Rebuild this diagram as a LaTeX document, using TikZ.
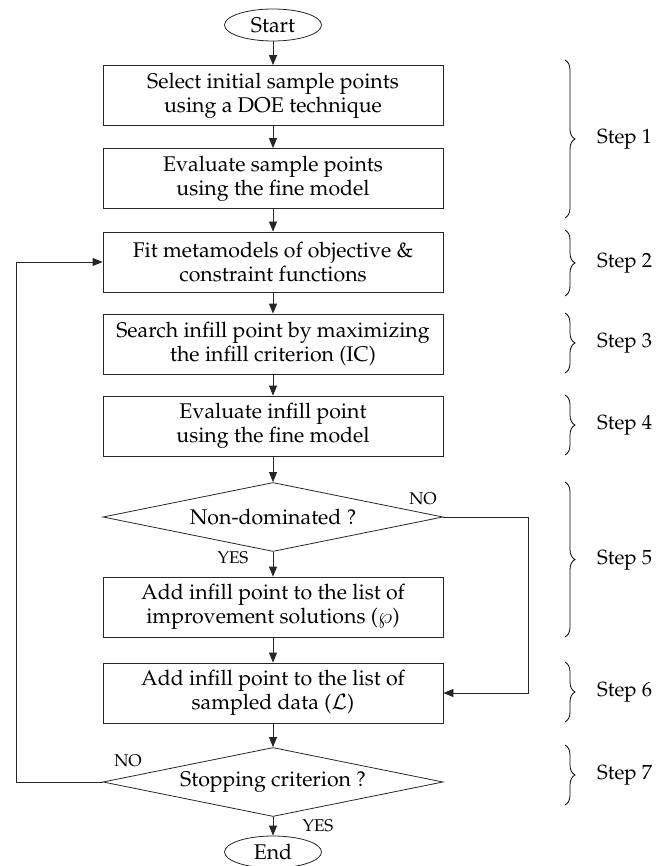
\documentclass[tikz,border=0pt]{standalone}
\usepackage[T1]{fontenc}
\usepackage{mathpazo}
\usetikzlibrary{shapes.geometric,arrows.meta,decorations.pathreplacing}
\tikzset{
  box/.style={draw=black!85, line width=0.8pt, rectangle, minimum width=340pt, minimum height=60pt, align=center, inner sep=0pt},
  term/.style={draw=black!85, line width=0.8pt, ellipse, minimum width=97pt, minimum height=32pt, inner sep=0pt},
  decis/.style={draw=black!85, line width=0.8pt, diamond, aspect=4.9, minimum width=340pt, minimum height=69pt, inner sep=0pt},
  conn/.style={draw=black!85, line width=0.8pt, -{Triangle[length=10pt,width=8pt]}},
  brc/.style={draw=black, line width=0.8pt, decorate, decoration={brace, amplitude=10pt}},
  steplab/.style={anchor=west, inner sep=0pt, font=\fontsize{20.5}{24}\selectfont},
  ynlab/.style={inner sep=0pt, font=\fontsize{17}{19}\selectfont},
}
\begin{document}
\begin{tikzpicture}[x=1pt,y=-1pt, font=\fontsize{21.3}{24}\selectfont]
\useasboundingbox (0,0) rectangle (657,866);
\node[term] (start) at (273,25) {Start};
\node[box] (b1) at (273,95.5) {Select initial sample points\\using a DOE technique};
\node[box] (b2) at (273,178.5) {Evaluate sample points\\using the fine model};
\node[box] (b3) at (273,262) {Fit metamodels of objective \&\\constraint functions};
\node[box] (b4) at (273,344) {Search infill point by maximizing\\the infill criterion (IC)};
\node[box] (b5) at (273,426) {Evaluate infill point\\using the fine model};
\node[decis] (d1) at (273,517) {Non-dominated ?};
\node[box] (b6) at (273,607) {Add infill point to the list of\\improvement solutions ($\wp$)};
\node[box] (b7) at (273,693) {Add infill point to the list of\\sampled data ($\mathcal{L}$)};
\node[decis] (d2) at (273,782) {Stopping criterion ?};
\node[term] (end) at (273,852) {End};

\coordinate (r1) at (528,517);
\coordinate (r2) at (528,693);
\coordinate (l1) at (16,782);
\coordinate (l2) at (16,262);

\draw[conn] (start) -- (b1);
\draw[conn] (b1) -- (b2);
\draw[conn] (b2) -- (b3);
\draw[conn] (b3) -- (b4);
\draw[conn] (b4) -- (b5);
\draw[conn] (b5) -- (d1);
\draw[conn] (d1) -- (b6);
\draw[conn] (b6) -- (b7);
\draw[conn] (b7) -- (d2);
\draw[conn] (d2) -- (end);
\draw[conn] (d1.east) -- (r1) -- (r2) -- (b7.east);
\draw[conn] (d2.west) -- (l1) -- (l2) -- (b3.west);

\node[ynlab] (yes1) at (233,558) {YES};
\node[ynlab] (no1) at (423,499) {NO};
\node[ynlab] (no2) at (128,761) {NO};
\node[ynlab] (yes2) at (318,826) {YES};

\draw[brc] (565,60) -- (565,218);
\draw[brc] (565,230) -- (565,296);
\draw[brc] (565,313) -- (565,373);
\draw[brc] (565,395) -- (565,455);
\draw[brc] (565,482) -- (565,637);
\draw[brc] (565,662) -- (565,722);
\draw[brc] (565,745) -- (565,805);
\node[steplab] (s1) at (597,139) {Step 1};
\node[steplab] (s2) at (597,263) {Step 2};
\node[steplab] (s3) at (597,343) {Step 3};
\node[steplab] (s4) at (597,425) {Step 4};
\node[steplab] (s5) at (597,560) {Step 5};
\node[steplab] (s6) at (597,692) {Step 6};
\node[steplab] (s7) at (597,775) {Step 7};
\end{tikzpicture}
\end{document}
